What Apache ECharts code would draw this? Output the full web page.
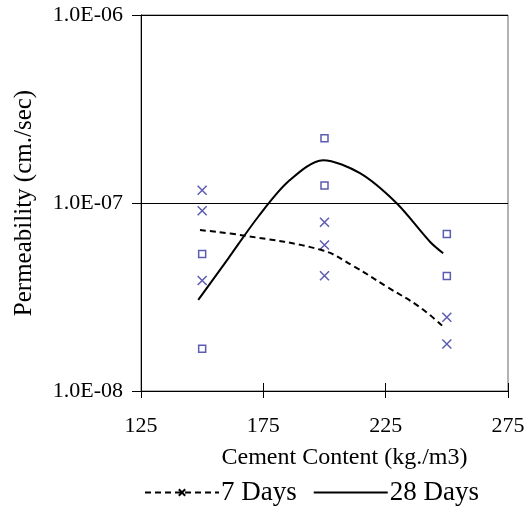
<!DOCTYPE html>
<html>
<head>
<meta charset="utf-8">
<script src="https://cdn.jsdelivr.net/npm/echarts@6/dist/echarts.min.js"></script>
<style>
  html, body { margin: 0; padding: 0; background: #fff; }
  #chart { width: 531px; height: 508px; }
</style>
</head>
<body>
<div id="chart"></div>
<script>
// measured points (cement content kg/m3, permeability cm/sec)
const days7Points = [
  [150, 1.17e-7], [150, 9.1e-8], [150, 3.87e-8],
  [200, 7.9e-8], [200, 5.98e-8], [200, 4.1e-8],
  [250, 2.47e-8], [250, 1.78e-8]
];
const days28Points = [
  [150, 5.36e-8], [150, 1.68e-8],
  [200, 2.21e-7], [200, 1.24e-7],
  [250, 6.84e-8], [250, 4.09e-8]
];

// trend curves
const days7CurveX = [149.1, 167.5, 198.8, 211.8, 225.4, 239.0, 248.5];
const days7CurveY = [7.18e-8, 6.70e-8, 5.62e-8, 4.62e-8, 3.59e-8, 2.79e-8, 2.20e-8];
const days28CurveX = [148.4, 160.7, 172.9, 185.2, 199.4, 214.5, 229.5, 243.1, 248.5];
const days28CurveY = [3.05e-8, 5.08e-8, 8.45e-8, 1.30e-7, 1.69e-7, 1.44e-7, 9.96e-8, 6.22e-8, 5.40e-8];

const xTicks = [125, 175, 225, 275];
const yTickLabels = { '-8': '1.0E-08', '-7': '1.0E-07', '-6': '1.0E-06' };

const FONT = '"Liberation Serif", "Times New Roman", serif';
const MARK = '#33339c';
const X_PATH = 'path://M0,0L10,10M10,0L0,10';

const chart = echarts.init(document.getElementById('chart'));

const pair = (xs, ys) => xs.map((x, i) => [x, ys[i]]);

const xBase = {
  type: 'value',
  min: 125,
  max: 275,
  gridIndex: 0,
  splitLine: { show: false }
};

const options = {
  animation: false,
  textStyle: { fontFamily: FONT, color: '#000' },
  grid: {
    left: 141, top: 15, right: 23, bottom: 117,
    show: true, borderColor: '#666', borderWidth: 1, backgroundColor: 'transparent'
  },
  legend: {
    left: 139,
    top: 474,
    itemWidth: 74,
    itemHeight: 8,
    itemGap: 16,
    textStyle: { fontFamily: FONT, fontSize: 27, color: '#000', padding: [0, 0, 0, -3] },
    data: [
      { name: '7 Days' },
      { name: '28 Days', itemStyle: { opacity: 0 } }
    ]
  },
  xAxis: [
    Object.assign({}, xBase, {
      name: 'Cement Content (kg./m3)',
      nameLocation: 'middle',
      nameGap: 55,
      nameTextStyle: { fontFamily: FONT, fontSize: 24, color: '#000', padding: [0, 0, 0, 40] },
      axisLine: { lineStyle: { color: '#000', width: 1 } },
      axisTick: { show: true, inside: false, length: 7, customValues: xTicks, lineStyle: { color: '#000' } },
      axisLabel: { customValues: xTicks, fontFamily: FONT, fontSize: 22, color: '#000', margin: 24 }
    }),
    Object.assign({}, xBase, {
      position: 'bottom',
      axisLine: { show: false },
      axisTick: { show: true, inside: true, length: 8, customValues: xTicks, lineStyle: { color: '#000' } },
      axisLabel: { show: false }
    })
  ],
  yAxis: {
    type: 'log',
    logBase: 10,
    min: 1e-8,
    max: 1e-6,
    name: 'Permeability (cm./sec)',
    nameLocation: 'middle',
    nameGap: 104,
    nameTextStyle: { fontFamily: FONT, fontSize: 25, color: '#000' },
    axisLine: { show: true, lineStyle: { color: '#000', width: 1 } },
    axisTick: { show: true, length: 9, lineStyle: { color: '#000' } },
    minorTick: { show: false },
    splitLine: { show: true, lineStyle: { color: '#000', width: 1 } },
    axisLabel: {
      fontFamily: FONT, fontSize: 22, color: '#000', margin: 18,
      formatter: (v) => yTickLabels[String(Math.round(Math.log10(v)))] || ''
    }
  },
  series: [
    {
      name: '7 Days pts',
      type: 'scatter',
      data: days7Points,
      symbol: X_PATH,
      symbolSize: 9,
      itemStyle: { color: 'none', borderColor: MARK, borderWidth: 1.5 }
    },
    {
      name: '28 Days pts',
      type: 'scatter',
      data: days28Points,
      symbol: 'rect',
      symbolSize: 7,
      itemStyle: { color: '#fff', borderColor: MARK, borderWidth: 1.5 }
    },
    {
      name: '7 Days',
      type: 'line',
      data: pair(days7CurveX, days7CurveY),
      smooth: 0.4,
      showSymbol: false,
      symbol: X_PATH,
      symbolSize: 6,
      itemStyle: { color: 'none', borderColor: '#000', borderWidth: 1.5 },
      lineStyle: { color: '#000', width: 2, type: [6, 4] }
    },
    {
      name: '28 Days',
      type: 'line',
      data: pair(days28CurveX, days28CurveY),
      smooth: 0.3,
      symbol: 'none',
      itemStyle: { color: '#000' },
      lineStyle: { color: '#000', width: 2, type: 'solid' }
    }
  ]
};

chart.setOption(options);
</script>
</body>
</html>
